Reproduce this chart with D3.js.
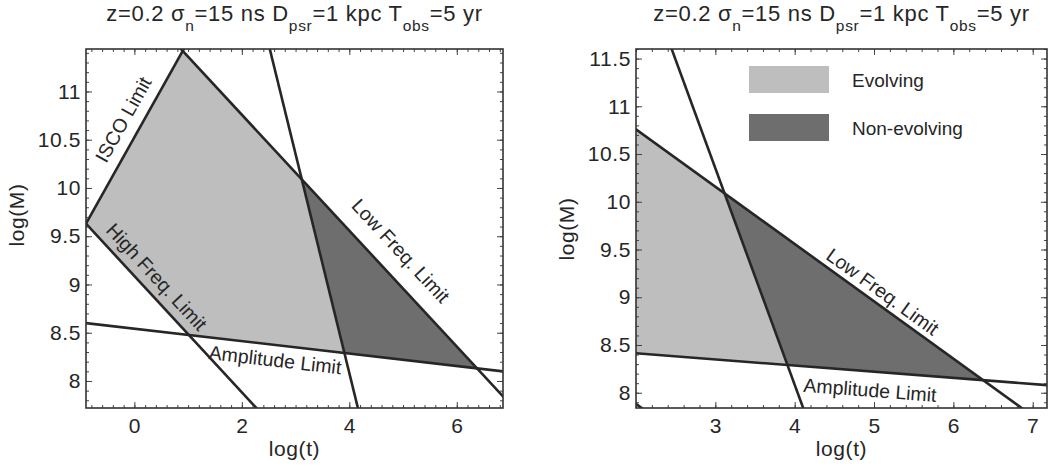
<!DOCTYPE html>
<html>
<head>
<meta charset="utf-8">
<script src="https://cdn.jsdelivr.net/npm/d3@7"></script>
<style>
  body { margin: 0; background: #fff; }
  svg { display: block; font-family: 'Liberation Sans', Arial, sans-serif; }
</style>
</head>
<body>
<svg id="chart" width="1050" height="473"></svg>
<script>
const iscoLimit = [[-0.9, 9.63], [0.9, 11.42]];
const highFreqLimit = [[-0.9, 9.63], [2.27, 7.72]];
const lowFreqLimit = [[0.9, 11.42], [6.86, 7.84]];
const evolveLimit = [[2.52, 11.44], [4.16, 7.72]];
const ampLimit = [[-0.9, 8.60], [6.86, 8.10]];

const titleParts = [['z=0.2 σ', 'n'], ['=15 ns D', 'psr'], ['=1 kpc T', 'obs'], ['=5 yr', null]];
const legendLabels = ['Evolving', 'Non-evolving'];
const fillColors = ['#bebebe', '#6e6e6e'];

const leftXTicks = [0, 2, 4, 6];
const leftYTicks = [8, 8.5, 9, 9.5, 10, 10.5, 11];
const rightXTicks = [3, 4, 5, 6, 7];
const rightYTicks = [8, 8.5, 9, 9.5, 10, 10.5, 11, 11.5];

const lines = { isco: iscoLimit, high: highFreqLimit, low: lowFreqLimit, evolve: evolveLimit, amp: ampLimit };

const leftLabels = [
  { text: 'ISCO Limit', line: 'isco', at: [-0.21, 10.71] },
  { text: 'High Freq. Limit', line: 'high', at: [0.42, 9.08] },
  { text: 'Low Freq. Limit', line: 'low', at: [4.96, 9.35] },
  { text: 'Amplitude Limit', line: 'amp', at: [2.62, 8.22] }
];
const rightLabels = [
  { text: 'Low Freq. Limit', line: 'low', at: [5.11, 9.06] },
  { text: 'Amplitude Limit', line: 'amp', at: [4.95, 8.03] }
];

const panels = [
  { xDomain: [-0.9, 6.86], yDomain: [7.72, 11.44], left: 86, right: 503, xTicks: leftXTicks, yTicks: leftYTicks, labels: leftLabels, legend: false, yTitleY: 215 },
  { xDomain: [2.0, 7.18], yDomain: [7.84, 11.6], left: 636, right: 1047, xTicks: rightXTicks, yTicks: rightYTicks, labels: rightLabels, legend: true, yTitleY: 229 }
];
const plotTop = 49, plotBottom = 408;
const ink = '#262626';

function slope(seg) {
  return (seg[1][1] - seg[0][1]) / (seg[1][0] - seg[0][0]);
}

function at(seg, x) {
  return seg[0][1] + slope(seg) * (x - seg[0][0]);
}

function cross(a, b) {
  const ma = slope(a), mb = slope(b);
  const x = (b[0][1] - a[0][1] + ma * a[0][0] - mb * b[0][0]) / (ma - mb);
  return [x, at(a, x)];
}

function minorTicks(domain, step) {
  const start = Math.ceil(domain[0] / step - 1e-9);
  const end = Math.floor(domain[1] / step + 1e-9);
  return d3.range(start, end + 1).map(i => +(i * step).toFixed(3));
}

const evolvingArea = [
  cross(iscoLimit, highFreqLimit),
  cross(iscoLimit, lowFreqLimit),
  cross(lowFreqLimit, evolveLimit),
  cross(evolveLimit, ampLimit),
  cross(ampLimit, highFreqLimit)
];
const nonEvolvingArea = [
  cross(lowFreqLimit, evolveLimit),
  cross(lowFreqLimit, ampLimit),
  cross(evolveLimit, ampLimit)
];

const svg = d3.select('#chart');

panels.forEach((p, i) => {
  const x = d3.scaleLinear().domain(p.xDomain).range([p.left, p.right]);
  const y = d3.scaleLinear().domain(p.yDomain).range([plotBottom, plotTop]);
  const g = svg.append('g');

  const clipId = 'clip' + i;
  svg.append('clipPath').attr('id', clipId)
    .append('rect')
    .attr('x', p.left).attr('y', plotTop)
    .attr('width', p.right - p.left).attr('height', plotBottom - plotTop);

  const plot = g.append('g').attr('clip-path', `url(#${clipId})`);
  const poly = d3.line().x(d => x(d[0])).y(d => y(d[1]));

  plot.selectAll('path.area')
    .data([evolvingArea, nonEvolvingArea])
    .enter()
    .append('path')
    .attr('class', 'area')
    .attr('d', d => poly(d) + 'Z')
    .attr('fill', (d, k) => fillColors[k])
    .attr('stroke', 'none');

  const x0 = p.xDomain[0] - 1, x1 = p.xDomain[1] + 1;
  plot.selectAll('path.limit')
    .data(Object.values(lines))
    .enter()
    .append('path')
    .attr('class', 'limit')
    .attr('d', seg => poly([[x0, at(seg, x0)], [x1, at(seg, x1)]]))
    .attr('fill', 'none')
    .attr('stroke', ink)
    .attr('stroke-width', 2.6);

  // axes with inward ticks on all four sides
  const fmt = d3.format('');
  const xMinor = minorTicks(p.xDomain, 0.2);
  const yMinor = minorTicks(p.yDomain, 0.1);
  const axes = [
    [d3.axisBottom(x).tickValues(p.xTicks).tickSizeInner(-6).tickPadding(10).tickFormat(fmt), `translate(0,${plotBottom})`, true],
    [d3.axisBottom(x).tickValues(xMinor).tickSizeInner(-3).tickFormat(''), `translate(0,${plotBottom})`, false],
    [d3.axisTop(x).tickValues(p.xTicks).tickSizeInner(-6).tickFormat(''), `translate(0,${plotTop})`, false],
    [d3.axisTop(x).tickValues(xMinor).tickSizeInner(-3).tickFormat(''), `translate(0,${plotTop})`, false],
    [d3.axisLeft(y).tickValues(p.yTicks).tickSizeInner(-6).tickPadding(5).tickFormat(fmt), `translate(${p.left},0)`, true],
    [d3.axisLeft(y).tickValues(yMinor).tickSizeInner(-3).tickFormat(''), `translate(${p.left},0)`, false],
    [d3.axisRight(y).tickValues(p.yTicks).tickSizeInner(-6).tickFormat(''), `translate(${p.right},0)`, false],
    [d3.axisRight(y).tickValues(yMinor).tickSizeInner(-3).tickFormat(''), `translate(${p.right},0)`, false]
  ];
  axes.forEach(([axis, tr, labelled]) => {
    const a = g.append('g').attr('transform', tr).call(axis.tickSizeOuter(0));
    a.select('.domain').remove();
    a.selectAll('line').attr('stroke', '#444').attr('stroke-width', 1);
    if (labelled) {
      a.selectAll('text')
        .attr('fill', ink)
        .style('font-size', '21px')
        .style('font-family', "'Liberation Sans', Arial, sans-serif")
        .style('letter-spacing', '0.6px');
    }
  });

  g.append('rect')
    .attr('x', p.left).attr('y', plotTop)
    .attr('width', p.right - p.left).attr('height', plotBottom - plotTop)
    .attr('fill', 'none')
    .attr('stroke', '#333')
    .attr('stroke-width', 1.6);

  // line labels, turned to follow their line
  p.labels.forEach(l => {
    const seg = lines[l.line];
    const dx = x(seg[1][0]) - x(seg[0][0]);
    const dy = y(seg[1][1]) - y(seg[0][1]);
    const angle = Math.atan2(dy, dx) * 180 / Math.PI;
    g.append('text')
      .attr('transform', `translate(${x(l.at[0])},${y(l.at[1])}) rotate(${angle})`)
      .attr('text-anchor', 'middle')
      .attr('dominant-baseline', 'central')
      .attr('fill', ink)
      .style('font-size', '19.5px')
      .text(l.text);
  });

  // title with subscripts
  const cx = (p.left + p.right) / 2;
  const title = g.append('text')
    .attr('x', cx).attr('y', 21)
    .attr('text-anchor', 'middle')
    .attr('fill', ink)
    .style('font-size', '22px')
    .style('letter-spacing', '0.7px');
  let shift = 0;
  titleParts.forEach(([main, sub]) => {
    title.append('tspan').attr('dy', -shift).text(main);
    shift = 0;
    if (sub) {
      shift = 10;
      title.append('tspan').attr('dy', shift).style('font-size', '15.5px').text(sub);
    }
  });

  g.append('text')
    .attr('x', cx).attr('y', 456)
    .attr('text-anchor', 'middle')
    .attr('fill', ink)
    .style('font-size', '21px')
    .style('letter-spacing', '0.6px')
    .text('log(t)');

  g.append('text')
    .attr('transform', `translate(${p.left - 62},${p.yTitleY}) rotate(-90)`)
    .attr('text-anchor', 'middle')
    .attr('fill', ink)
    .style('font-size', '21px')
    .style('letter-spacing', '0.6px')
    .text('log(M)');

  if (p.legend) {
    const lg = g.append('g').attr('transform', `translate(${p.left + 113},66)`);
    legendLabels.forEach((name, k) => {
      lg.append('rect')
        .attr('x', 0).attr('y', k * 48)
        .attr('width', 80).attr('height', 27)
        .attr('fill', fillColors[k]);
      lg.append('text')
        .attr('x', 103).attr('y', k * 48 + 21)
        .attr('fill', ink)
        .style('font-size', '19px')
        .text(name);
    });
  }
});
</script>
</body>
</html>
